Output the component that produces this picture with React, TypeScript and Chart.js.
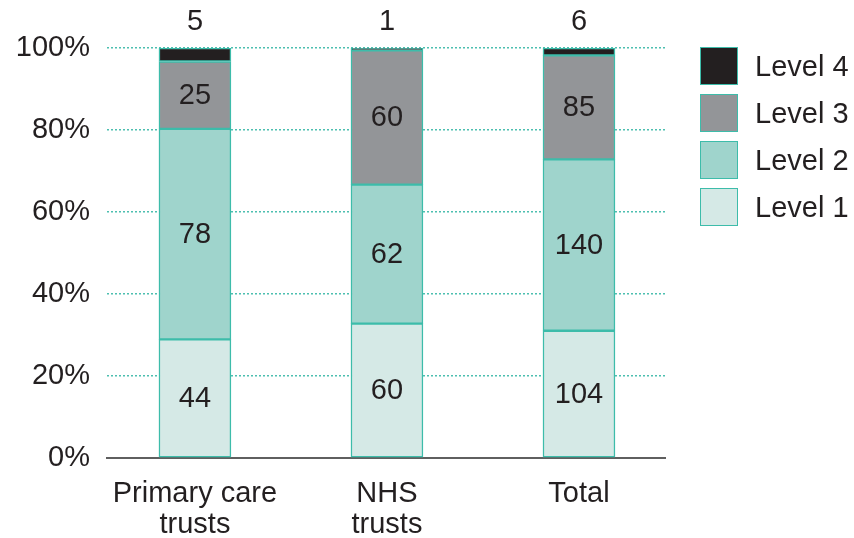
import React, { useEffect, useRef } from "react";
import { Chart, registerables } from "chart.js";

Chart.register(...registerables);

const categories: string[][] = [["Primary care", "trusts"], ["NHS", "trusts"], ["Total"]];
const seriesNames = ["Level 1", "Level 2", "Level 3", "Level 4"];
const level1 = [44, 60, 104];
const level2 = [78, 62, 140];
const level3 = [25, 60, 85];
const level4 = [5, 1, 6];
const yTicks = [0, 20, 40, 60, 80, 100];

const fills = ["#d5e9e6", "#9fd4cc", "#939598", "#231f20"];
const BORDER = "#3dbcaa";
const FONT = "'Liberation Sans', Arial, sans-serif";
const TEXT = "#231f20";
const FS = 29;

export default function App() {
  const ref = useRef<HTMLCanvasElement>(null);
  useEffect(() => {
    document.body.style.margin = "0";
    const series = [level1, level2, level3, level4];
    const totals = level1.map((_, i) => series.reduce((s, a) => s + a[i], 0));
    const datasets = series.map((arr, k) => ({
      label: seriesNames[k],
      data: arr.map((v, i) => ({ x: i, y: (v / totals[i]) * 100, count: v })),
      backgroundColor: fills[k],
      borderColor: BORDER,
      borderWidth: 1.5,
      borderSkipped: false,
      barThickness: 72,
    }));
    const labelPlugin = {
      id: "countLabels",
      afterDatasetsDraw(chart: any) {
        const ctx = chart.ctx;
        ctx.save();
        ctx.font = `${FS}px ${FONT}`;
        ctx.fillStyle = TEXT;
        ctx.textAlign = "center";
        ctx.textBaseline = "middle";
        chart.data.datasets.forEach((ds: any, k: number) => {
          const meta = chart.getDatasetMeta(k);
          meta.data.forEach((el: any, i: number) => {
            const c = ds.data[i].count;
            if (k < 3) {
              ctx.fillText(String(c), el.x, (el.y + el.base) / 2 + 1);
            } else {
              ctx.fillText(String(c), el.x, el.y - 26);
            }
          });
        });
        ctx.restore();
      },
    };
    const chart = new Chart(ref.current!, {
      type: "bar",
      data: { datasets: datasets as any },
      plugins: [labelPlugin],
      options: {
        animation: false,
        responsive: false,
        layout: { padding: { top: 48, left: 0, right: 189, bottom: 0 } },
        plugins: {
          tooltip: { enabled: false },
          legend: { display: false },
        },
        scales: {
          x: {
            type: "linear",
            stacked: true,
            offset: false,
            min: -0.458,
            max: 2.448,
            afterBuildTicks: (axis: any) => {
              axis.ticks = [0, 1, 2].map((v) => ({ value: v }));
            },
            afterFit: (axis: any) => {
              axis.height = 80;
            },
            ticks: {
              autoSkip: false,
              maxRotation: 0,
              padding: 21,
              color: TEXT,
              font: { family: FONT, size: FS, lineHeight: 1.05 },
              callback: (v: any) => categories[v as number] as any,
            },
            grid: { display: false, drawTicks: false, offset: false },
            border: { display: true, color: "#5f5f5f", width: 2 },
          },
          y: {
            stacked: true,
            min: 0,
            max: 100,
            afterBuildTicks: (axis: any) => {
              axis.ticks = yTicks.map((v) => ({ value: v }));
            },
            afterFit: (axis: any) => {
              axis.width = 107;
            },
            ticks: {
              padding: 17,
              color: TEXT,
              font: { family: FONT, size: FS },
              callback: (v: any) => v + "%",
            },
            grid: {
              drawTicks: false,
              color: (c: any) => (c.tick && c.tick.value === 0 ? "rgba(0,0,0,0)" : "#4dbfb0"),
              lineWidth: 1.5,
            },
            border: { display: false, dash: [2, 2] },
          },
        },
      } as any,
    });
    return () => chart.destroy();
  }, []);
  const legendItems = [3, 2, 1, 0];
  return (
    <div style={{ position: "absolute", left: 0, top: 0, width: 854, height: 538, background: "#fff" }}>
      <canvas ref={ref} width={854} height={538} style={{ display: "block" }} />
      <div style={{ position: "absolute", left: 700, top: 47 }}>
        {legendItems.map((k) => (
          <div key={k} style={{ display: "flex", alignItems: "center", height: 38, marginBottom: 9 }}>
            <div
              style={{
                width: 38,
                height: 38,
                boxSizing: "border-box",
                background: fills[k],
                border: `1.5px solid ${BORDER}`,
              }}
            />
            <span style={{ marginLeft: 17, fontFamily: FONT, fontSize: FS, color: TEXT, lineHeight: "38px", whiteSpace: "nowrap" }}>
              {seriesNames[k]}
            </span>
          </div>
        ))}
      </div>
    </div>
  );
}
